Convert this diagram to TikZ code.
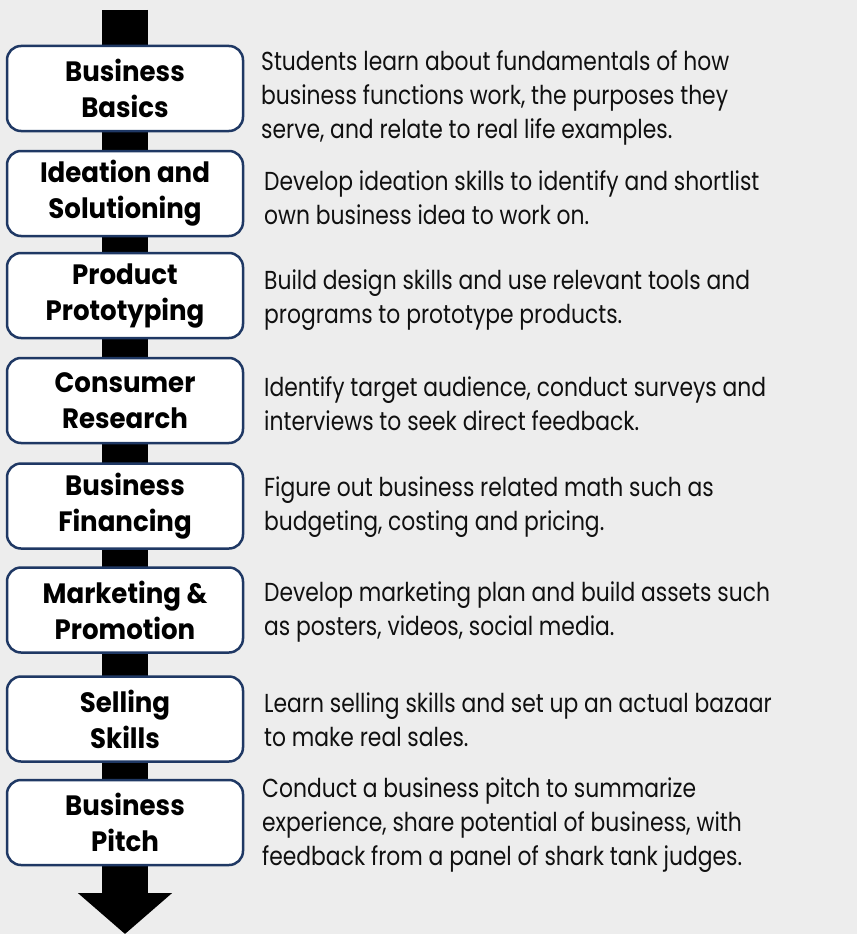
\documentclass[tikz,border=0pt]{standalone}
\usepackage{fontspec}
\setmainfont{Poppins}[FakeStretch=0.84]
\newfontfamily\titlefont{Poppins}[FakeStretch=0.93]
\usetikzlibrary{arrows.meta,positioning}

\definecolor{bgray}{HTML}{EDEDED}
\definecolor{navy}{HTML}{1F3864}
\definecolor{ink}{HTML}{101010}

\tikzset{
  stepbox/.style={draw=navy, fill=white, line width=2.5pt, rounded corners=14pt,
    minimum width=236pt, minimum height=85pt, align=center, inner sep=2pt,
    font=\titlefont\fontsize{28}{36}\selectfont\bfseries, text=black},
  stepdesc/.style={anchor=west, align=left, inner sep=0pt,
    font=\fontsize{26}{34}\selectfont, text=ink},
}

\begin{document}
\begin{tikzpicture}[x=1pt, y=-1pt]

% Canvas
\fill[bgray] (0,0) rectangle (857,934);
\useasboundingbox (0,0) rectangle (857,934);

% Timeline arrow
\coordinate (top) at (125,10);
\coordinate (tip) at (125,934);
\draw[line width=46pt, -{Triangle[width=92pt, length=41pt]}] (top) -- (tip);

% Steps
\node[stepbox] (basics) at (125,88.5) {Business\\Basics};
\node[stepbox] (ideation) at (125,193.5) {Ideation and\\Solutioning};
\node[stepbox] (proto) at (125,295.5) {Product\\Prototyping};
\node[stepbox] (research) at (125,400.5) {Consumer\\Research};
\node[stepbox] (finance) at (125,506) {Business\\Financing};
\node[stepbox] (marketing) at (125,610) {Marketing \&\\Promotion};
\node[stepbox] (selling) at (125,719) {Selling\\Skills};
\node[stepbox] (pitch) at (125,822.5) {Business\\Pitch};

% Descriptions
\node[stepdesc] (basicsd) at (261,98) {Students learn about fundamentals of how\\business functions work, the purposes they\\serve, and relate to real life examples.};
\node[stepdesc] (ideationd) at (264,198) {Develop ideation skills to identify and shortlist\\own business idea to work on.};
\node[stepdesc] (protod) at (264,300) {Build design skills and use relevant tools and\\programs to prototype products.};
\node[stepdesc] (researchd) at (264,404) {Identify target audience, conduct surveys and\\interviews to seek direct feedback.};
\node[stepdesc] (financed) at (264,507) {Figure out business related math such as\\budgeting, costing and pricing.};
\node[stepdesc] (marketingd) at (264,612) {Develop marketing plan and build assets such\\as posters, videos, social media.};
\node[stepdesc] (sellingd) at (264,720) {Learn selling skills and set up an actual bazaar\\to make real sales.};
\node[stepdesc] (pitchd) at (262,825) {Conduct a business pitch to summarize\\experience, share potential of business, with\\feedback from a panel of shark tank judges.};

\end{tikzpicture}
\end{document}
